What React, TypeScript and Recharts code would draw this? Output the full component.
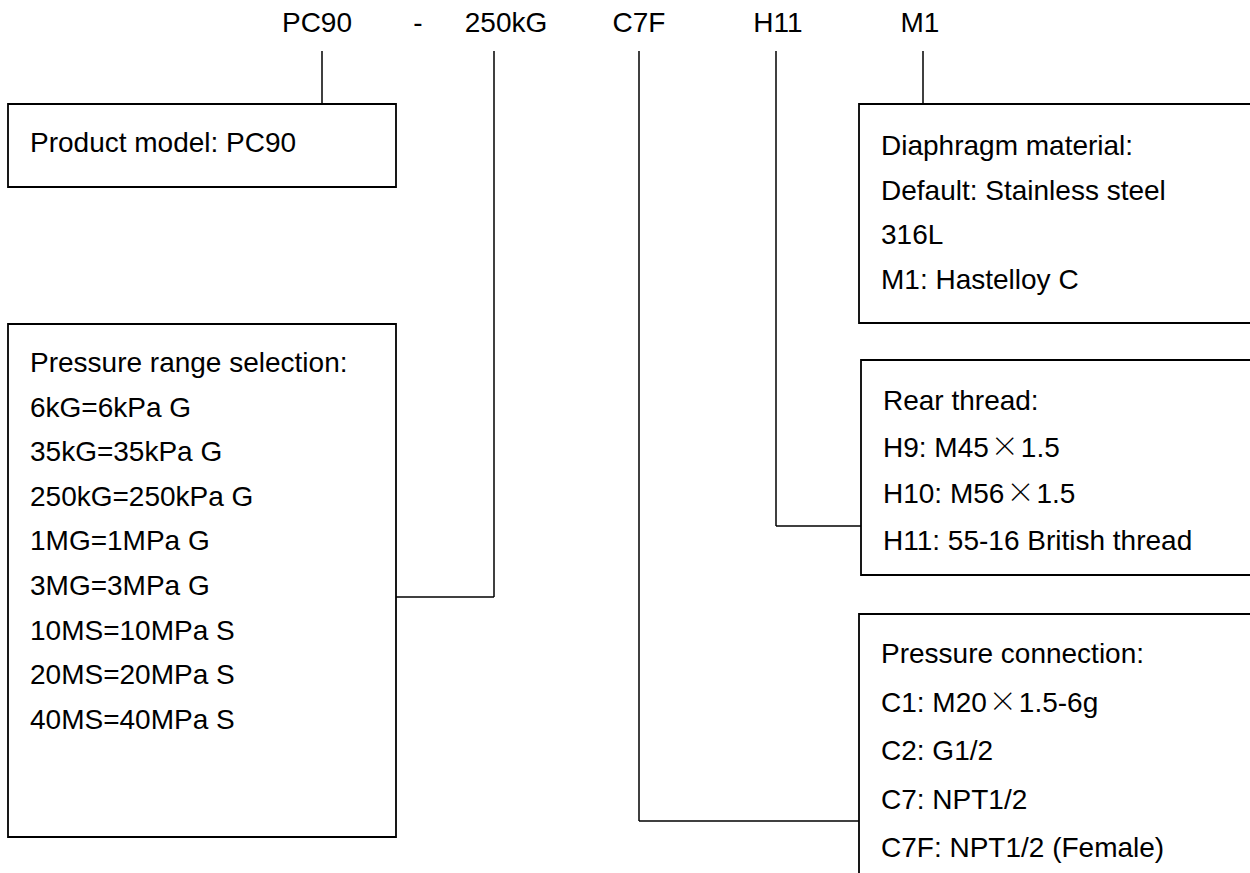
import {
  ScatterChart,
  Scatter,
  XAxis,
  YAxis,
  ReferenceArea,
  ReferenceLine,
} from "recharts";

const W = 1250;
const H = 873;
const FONT = "'Liberation Sans', Arial, Helvetica, sans-serif";
const CJK_FONT = "'Noto Sans CJK SC', 'Noto Sans CJK JP', sans-serif";
const FONT_SIZE = 28;
const INK = "#000";

// ordering code across the top
const CODE_PARTS = ["PC90", "-", "250kG", "C7F", "H11", "M1"];

const MODEL_LINES = ["Product model: PC90"];
const RANGE_LINES = [
  "Pressure range selection:",
  "6kG=6kPa G",
  "35kG=35kPa G",
  "250kG=250kPa G",
  "1MG=1MPa G",
  "3MG=3MPa G",
  "10MS=10MPa S",
  "20MS=20MPa S",
  "40MS=40MPa S",
];
const MATERIAL_LINES = [
  "Diaphragm material:",
  "Default: Stainless steel",
  "316L",
  "M1: Hastelloy C",
];
const THREAD_LINES = [
  "Rear thread:",
  "H9: M45\u00d71.5",
  "H10: M56\u00d71.5",
  "H11: 55-16 British thread",
];
const CONNECTION_LINES = [
  "Pressure connection:",
  "C1: M20\u00d71.5-6g",
  "C2: G1/2",
  "C7: NPT1/2",
  "C7F: NPT1/2 (Female)",
];

// layout (kept apart from the texts above)
const CODE_X = [317, 418, 506, 639, 778, 920];
const CODE_Y = 22;

const BOXES = [
  { lines: MODEL_LINES, x1: 8, x2: 396, y1: 104, y2: 187, first: 142, step: 0 },
  { lines: RANGE_LINES, x1: 8, x2: 396, y1: 324, y2: 837, first: 362, step: 44.6 },
  { lines: MATERIAL_LINES, x1: 859, x2: 1262, y1: 104, y2: 323, first: 145, step: 44.5 },
  { lines: THREAD_LINES, x1: 861, x2: 1262, y1: 360, y2: 575, first: 400, step: 46.7 },
  { lines: CONNECTION_LINES, x1: 859, x2: 1262, y1: 614, y2: 890, first: 653, step: 48.5 },
];

// leaders: drop from the code, then (optionally) run across to a box side
const LEADERS = [
  { x: 322, top: 51, bottom: 104 },
  { x: 494, top: 51, bottom: 597, toX: 396 },
  { x: 639, top: 51, bottom: 821, toX: 859 },
  { x: 776, top: 51, bottom: 526, toX: 861 },
  { x: 923, top: 51, bottom: 104 },
];

const codeData = CODE_PARTS.map((text, i) => ({ x: CODE_X[i], y: CODE_Y, text }));
const boxData = BOXES.map((b) =>
  b.lines.map((text, i) => ({ x: b.x1 + 22, y: b.first + i * b.step, text }))
);

// the × in the source is a thin, wide CJK glyph, so give it its own font and some room
function renderText(text: string) {
  const parts = text.split("\u00d7");
  if (parts.length === 1) return text;
  return parts.map((p, i) => (
    <tspan key={i}>
      {i > 0 && (
        <tspan fontFamily={CJK_FONT} fontWeight={300} dx={2}>
          {"\u00d7"}
        </tspan>
      )}
      <tspan dx={i > 0 ? 2 : 0}>{p}</tspan>
    </tspan>
  ));
}

function TextMark(anchor: "start" | "middle") {
  return (props: any) => (
    <text
      x={props.cx}
      y={props.cy + FONT_SIZE * 0.358}
      textAnchor={anchor}
      fontFamily={FONT}
      fontSize={FONT_SIZE}
      fill={INK}
    >
      {renderText(props.payload.text)}
    </text>
  );
}

export default function App() {
  return (
    <div style={{ width: W, height: H, background: "#fff" }}>
      <style>{"body{margin:0;background:#fff}"}</style>
      <ScatterChart width={W} height={H} margin={{ top: 0, right: 0, bottom: 0, left: 0 }}>
        <XAxis type="number" dataKey="x" domain={[0, W]} hide allowDataOverflow />
        <YAxis type="number" dataKey="y" domain={[0, H]} reversed hide allowDataOverflow />

        {BOXES.map((b, i) => (
          <ReferenceArea
            key={`box-${i}`}
            x1={b.x1}
            x2={b.x2}
            y1={b.y1}
            y2={b.y2}
            fill="none"
            stroke={INK}
            strokeWidth={1.8}
            ifOverflow="visible"
          />
        ))}

        {LEADERS.map((l, i) => (
          <ReferenceLine
            key={`drop-${i}`}
            segment={[{ x: l.x, y: l.top }, { x: l.x, y: l.bottom }]}
            stroke={INK}
            strokeWidth={1.5}
            ifOverflow="visible"
          />
        ))}
        {LEADERS.filter((l) => l.toX != null).map((l, i) => (
          <ReferenceLine
            key={`run-${i}`}
            segment={[{ x: l.x, y: l.bottom }, { x: l.toX as number, y: l.bottom }]}
            stroke={INK}
            strokeWidth={1.5}
            ifOverflow="visible"
          />
        ))}

        <Scatter data={codeData} shape={TextMark("middle")} isAnimationActive={false} />
        {boxData.map((d, i) => (
          <Scatter key={`text-${i}`} data={d} shape={TextMark("start")} isAnimationActive={false} />
        ))}
      </ScatterChart>
    </div>
  );
}
